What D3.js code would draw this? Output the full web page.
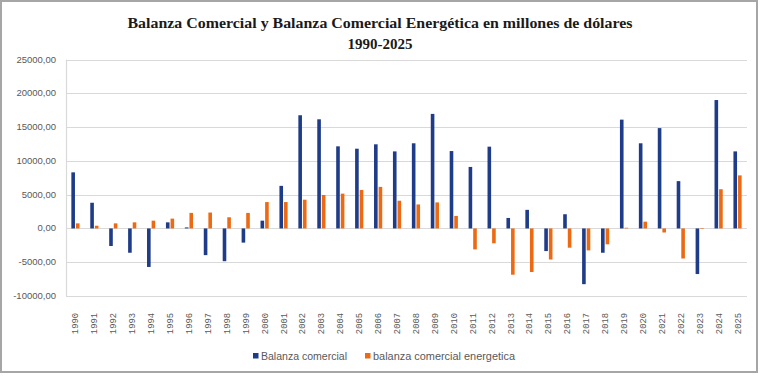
<!DOCTYPE html>
<html><head><meta charset="utf-8">
<script src="https://cdn.jsdelivr.net/npm/d3@7"></script>
<style>body{margin:0;background:#fff}svg{display:block}</style>
</head><body>
<script>
const years = ["1990","1991","1992","1993","1994","1995","1996","1997","1998","1999","2000","2001","2002","2003","2004","2005","2006","2007","2008","2009","2010","2011","2012","2013","2014","2015","2016","2017","2018","2019","2020","2021","2022","2023","2024","2025"];
const balanzaComercial = [8300,3800,-2600,-3600,-5700,900,150,-3950,-4850,-2100,1150,6300,16750,16150,12150,11800,12450,11400,12600,16950,11450,9100,12100,1550,2750,-3350,2100,-8250,-3600,16100,12600,14850,7000,-6750,19000,11400];
const balanzaEnergetica = [750,400,750,900,1150,1450,2300,2350,1650,2300,3900,3900,4250,4950,5150,5700,6150,4100,3550,3850,1850,-3100,-2200,-6850,-6450,-4600,-2850,-3250,-2350,100,1000,-600,-4450,50,5800,7850];
const yTicks = [-10000,-5000,0,5000,10000,15000,20000,25000];
const seriesNames = ["Balanza comercial","balanza comercial energetica"];
const colors = ["#1f3c88","#ed6a12"];

(function(){
const W=760,H=376;
const svg=d3.select("body").append("svg").attr("width",W).attr("height",H);
svg.append("rect").attr("x",0).attr("y",0).attr("width",W).attr("height",H).attr("fill","#fff");
svg.append("rect").attr("x",1).attr("y",1).attr("width",756).attr("height",371).attr("fill","none").attr("stroke","#a6a6a6").attr("stroke-width",2);

const pl=66,pr=747,pt=59.5,pb=296;
const x=d3.scaleBand().domain(years).range([pl,pr]);
const y=d3.scaleLinear().domain([-10000,25000]).range([pb,pt]);

svg.append("g").selectAll("line").data(yTicks).join("line")
 .attr("x1",pl).attr("x2",pr)
 .attr("y1",d=>Math.round(y(d))+0.5).attr("y2",d=>Math.round(y(d))+0.5)
 .attr("stroke","#d9d9d9").attr("stroke-width",1.2);
svg.append("line").attr("x1",pl+0.5).attr("x2",pl+0.5).attr("y1",pt).attr("y2",pb+0.5).attr("stroke","#d9d9d9").attr("stroke-width",1.2);

svg.append("g").selectAll("text").data(yTicks).join("text")
 .attr("x",56).attr("y",d=>Math.round(y(d))+3)
 .attr("text-anchor","end").attr("font-family","Liberation Sans Narrow, Liberation Sans, Arial").attr("font-size",9.5).attr("fill","#595959")
 .text(d=>d.toFixed(2).replace(".",","));

const bw=3.6;
const g=svg.append("g");
[balanzaComercial,balanzaEnergetica].forEach((vals,si)=>{
  g.selectAll(null).data(vals).join("rect")
   .attr("x",(d,i)=>x(years[i])+x.bandwidth()/2 - (si===0? bw+0.5 : -0.5) )
   .attr("width",bw)
   .attr("y",d=>Math.min(y(d),y(0)))
   .attr("height",d=>Math.max(0.6,Math.abs(y(d)-y(0))))
   .attr("fill",colors[si]);
});

svg.append("g").selectAll("text").data(years).join("text")
 .attr("transform",d=>`translate(${x(d)+x.bandwidth()/2+3},313) rotate(-90)`)
 .attr("text-anchor","end").attr("font-family","Liberation Mono, DejaVu Sans Mono, monospace").attr("font-size",8.8).attr("fill","#595959")
 .text(d=>d);

const tf="Liberation Serif, DejaVu Serif, serif";
svg.append("text").attr("x",380).attr("y",28).attr("text-anchor","middle").attr("font-family",tf).attr("font-weight","bold").attr("font-size",15).attr("fill","#1a1a1a")
 .attr("textLength",505).attr("lengthAdjust","spacingAndGlyphs")
 .text("Balanza Comercial y Balanza Comercial Energética en millones de dólares");
svg.append("text").attr("x",380).attr("y",49).attr("text-anchor","middle").attr("font-family",tf).attr("font-weight","bold").attr("font-size",15).attr("fill","#1a1a1a")
 .text("1990-2025");

const lg=svg.append("g");
const lx=[253,365], lw=[86,142];
seriesNames.forEach((n,i)=>{
  lg.append("rect").attr("x",lx[i]).attr("y",353).attr("width",5.5).attr("height",5.5).attr("fill",colors[i]);
  lg.append("text").attr("x",lx[i]+8).attr("y",359.5).attr("font-family","Liberation Sans Narrow, Liberation Sans, Arial").attr("font-size",10).attr("fill","#595959")
   .attr("textLength",lw[i]).attr("lengthAdjust","spacingAndGlyphs").text(n);
});
})();
</script>
</body></html>
